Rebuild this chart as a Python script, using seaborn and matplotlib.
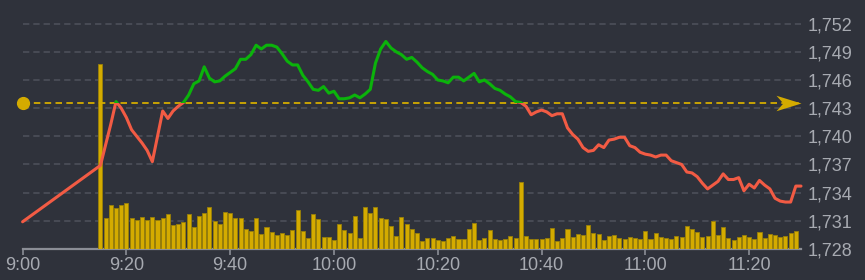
import numpy as np
import pandas as pd
import matplotlib
matplotlib.use("Agg")
import matplotlib.pyplot as plt
from matplotlib.patches import Rectangle
from matplotlib.path import Path
import seaborn as sns

# ---------------- data ----------------
session_open_min = 0          # 9:00
first_trade_min = 15          # 9:15
open_price = 1730.9           # price at 9:00
ref_price = 1743.5            # reference (previous close) line

prices = [
    1736.9, 1739.1, 1741.3, 1743.7, 1743.0, 1742.0, 1740.7, 1740.0, 1739.3, 1738.5,
    1737.3, 1740.0, 1742.7, 1741.9, 1742.7, 1743.2, 1743.6, 1744.4, 1745.6, 1745.9,
    1747.4, 1746.2, 1745.8, 1745.9, 1746.4, 1746.8, 1747.2, 1748.2, 1748.2, 1748.7,
    1749.7, 1749.3, 1749.7, 1749.7, 1749.5, 1748.8, 1748.0, 1747.6, 1747.6, 1746.5,
    1745.8, 1745.0, 1744.9, 1745.3, 1744.6, 1744.8, 1744.0, 1744.0, 1744.1, 1744.4,
    1744.1, 1744.5, 1745.0, 1747.8, 1749.3, 1750.1, 1749.4, 1749.0, 1748.7, 1748.2,
    1748.4, 1747.9, 1747.3, 1746.9, 1746.6, 1746.0, 1745.9, 1745.7, 1746.3, 1746.3,
    1745.9, 1746.3, 1746.7, 1745.8, 1746.0, 1745.6, 1745.1, 1744.9, 1744.5, 1744.2,
    1743.7, 1743.6, 1743.2, 1742.3, 1742.6, 1742.8, 1742.6, 1742.2, 1742.4, 1742.4,
    1740.9, 1740.2, 1739.7, 1738.8, 1738.4, 1738.5, 1739.1, 1738.8, 1739.6, 1739.7,
    1739.9, 1739.9, 1739.0, 1738.8, 1738.3, 1738.1, 1738.0, 1737.8, 1738.0, 1738.0,
    1737.4, 1737.2, 1737.0, 1736.2, 1736.1, 1735.7, 1735.0, 1734.4, 1734.8, 1735.2,
    1736.0, 1735.4, 1735.4, 1735.6, 1734.2, 1734.9, 1734.5, 1735.3, 1734.8, 1734.4,
    1733.4, 1733.1, 1733.0, 1733.0, 1734.7, 1734.7,
]

volumes = [
    185, 31.3, 43.7, 41.3, 44, 45.7, 31, 29, 32.3, 28.7, 31.7, 29.3, 30.7, 35, 24, 25,
    26.7, 35, 22.3, 33.3, 35.7, 41.7, 28,
    25, 36.7, 36.3, 31.3, 31, 20, 18, 31, 15.3, 22.3, 17, 14.3, 16.3, 14, 18.7, 39, 17.7,
    10.7, 34.7, 30, 12, 12,
    9, 25.3, 18.7, 16, 33, 11, 42, 36, 42, 30.7, 29.7, 23.3, 12.7, 31.7, 25, 20, 15.7, 8,
    11.3, 11.3, 9, 8,
    11.3, 12.7, 9.7, 9.7, 19.7, 26, 9.3, 11, 19, 10.3, 9, 9.7, 13.3, 11, 66.7, 13.3, 10,
    10, 9.7, 11.3, 20.7, 8,
    11, 19.7, 12, 15, 14, 24.3, 15.7, 15, 9, 13.3, 13.7, 11.3, 10.3, 11.7, 11, 10, 18, 10,
    16, 12.3, 10.7, 9.7,
    12.7, 11.7, 22.7, 20.3, 17, 11.7, 12.7, 28, 14.3, 21.7, 11, 9, 12, 13.7, 11.7, 9.7,
    17.3, 10.7, 14.7, 14, 11.7, 13, 15.7, 17.7,
]

x_tick_minutes = [0, 20, 40, 60, 80, 100, 120, 140]
x_tick_labels = ["9:00", "9:20", "9:40", "10:00", "10:20", "10:40", "11:00", "11:20"]
y_ticks = [1728, 1731, 1734, 1737, 1740, 1743, 1746, 1749, 1752]
y_tick_labels = ["1,728", "1,731", "1,734", "1,737", "1,740", "1,743", "1,746", "1,749", "1,752"]

price_df = pd.DataFrame({
    "minute": [session_open_min] + list(range(first_trade_min, first_trade_min + len(prices))),
    "price": [open_price] + prices,
})
vol_df = pd.DataFrame({
    "minute": list(range(first_trade_min, first_trade_min + len(volumes))),
    "volume": volumes,
})

# ---------------- style ----------------
BG = "#2f323b"
GRID = "#4a4d57"
TEXT = "#a7aab1"
AXIS = "#8b8e96"
RED = "#f25b44"
GREEN = "#0bb30b"
YELLOW = "#d4ab00"
BAR_EDGE = "#9a8108"

sns.set_theme(style="dark")
plt.rcParams["font.family"] = ["Liberation Sans", "DejaVu Sans"]

fig = plt.figure(figsize=(8.65, 2.8), dpi=100, facecolor=BG)
ax = fig.add_axes([22.6 / 865, 31 / 280, 778.4 / 865, 228 / 280])
ax.set_facecolor(BG)

xlim = (0, 150)
ylim = (1728, 1752.28)

# volume axis and price axis (twins drawn above the base grid axis)
ax_vol = ax.twinx()
ax_p = ax.twinx()

# base axis: grid + ticks
ax.set_xlim(*xlim)
ax.set_ylim(*ylim)
for y in y_ticks[1:]:
    ax.axhline(y, color=GRID, lw=1.3, ls=(0, (3.5, 2.2)), zorder=0)
for s in ["top", "left", "right"]:
    ax.spines[s].set_visible(False)
ax.spines["bottom"].set_color(AXIS)
ax.spines["bottom"].set_linewidth(1.6)
ax.set_xticks(x_tick_minutes)
ax.set_xticklabels(x_tick_labels)
ax.yaxis.tick_right()
ax.yaxis.set_label_position("right")
ax.set_yticks(y_ticks)
ax.set_yticklabels(y_tick_labels)
ax.tick_params(axis="x", colors=AXIS, labelcolor=TEXT, labelsize=13, length=4, width=1.2,
               direction="out", pad=2, bottom=True)
ax.tick_params(axis="y", colors=TEXT, labelcolor=TEXT, labelsize=13, length=0, pad=5,
               right=True, left=False, labelright=True, labelleft=False)
for lab in ax.get_yticklabels():
    lab.set_verticalalignment("center_baseline")
ax.grid(False)
ax.set_xlabel("")
ax.set_ylabel("")

# volume bars
ax_vol.patch.set_visible(False)
sns.barplot(data=vol_df, x="minute", y="volume", native_scale=True, color=YELLOW,
            saturation=1, width=0.78, edgecolor=BAR_EDGE, linewidth=0.6,
            errorbar=None, ax=ax_vol)
ax_vol.set_xlim(*xlim)
ax_vol.set_ylim(0, 228)
ax_vol.set_yticks([])
ax_vol.set_xlabel("")
ax_vol.set_ylabel("")
for s in ax_vol.spines.values():
    s.set_visible(False)
ax_vol.grid(False)

# price line
ax_p.patch.set_visible(False)
ax_p.set_xlim(*xlim)
ax_p.set_ylim(*ylim)

ax_p.plot([xlim[0], xlim[1]], [ref_price, ref_price], color=YELLOW, lw=1.3,
          ls=(0, (3.6, 2.4)), zorder=2)

sns.lineplot(data=price_df, x="minute", y="price", color=RED, lw=2.2, ax=ax_p, zorder=3)
red_line = ax_p.lines[-1]
sns.lineplot(data=price_df, x="minute", y="price", color=GREEN, lw=2.2, ax=ax_p, zorder=3)
green_line = ax_p.lines[-1]
for ln in (red_line, green_line):
    ln.set_solid_capstyle("round")
    ln.set_solid_joinstyle("round")
below = Rectangle((-50, ylim[0] - 50), 300, ref_price - ylim[0] + 50, transform=ax_p.transData)
above = Rectangle((-50, ref_price), 300, 100, transform=ax_p.transData)
red_line.set_clip_path(below)
green_line.set_clip_path(above)

# left marker dot and right arrow head
ax_p.plot([xlim[0]], [ref_price], "o", color=YELLOW, ms=8.5, clip_on=False, zorder=4)
arrow_path = Path([(0, 0), (-2, 0.62), (-1.45, 0), (-2, -0.62), (0, 0)],
                  [Path.MOVETO, Path.LINETO, Path.LINETO, Path.LINETO, Path.CLOSEPOLY])
ax_p.plot([xlim[1]], [ref_price], marker=arrow_path, color=YELLOW, ms=36,
          markeredgewidth=0, clip_on=False, zorder=4)

ax_p.set_ylim(*ylim)
ax_p.set_yticks([])
ax_p.set_xlabel("")
ax_p.set_ylabel("")
for s in ax_p.spines.values():
    s.set_visible(False)
ax_p.grid(False)

fig.savefig("out.png", dpi=100, facecolor=BG)
